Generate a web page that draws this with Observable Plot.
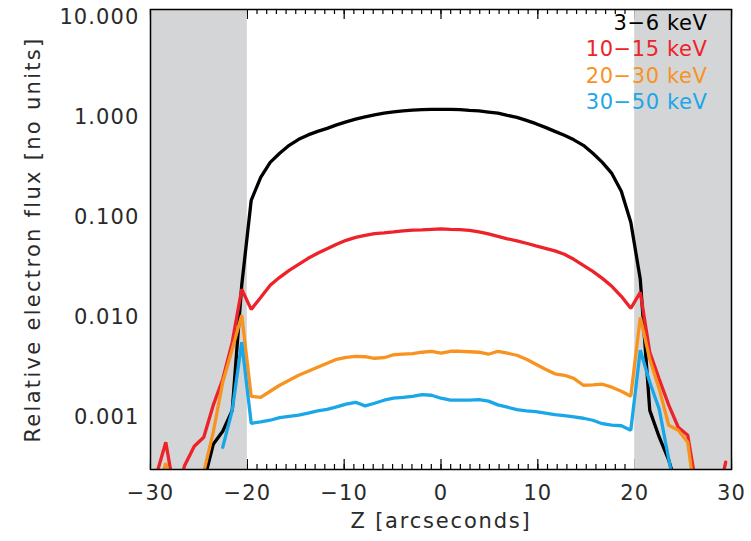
<!DOCTYPE html>
<html>
<head>
<meta charset="utf-8">
<script src="https://cdn.jsdelivr.net/npm/d3@7"></script>
<script src="https://cdn.jsdelivr.net/npm/@observablehq/plot@0.6"></script>
<style>
  html, body { margin: 0; padding: 0; background: #fff; }
  #chart { width: 751px; height: 541px; }
</style>
</head>
<body>
<div id="chart"></div>
<script>
// Z positions (arcseconds)
const z = [-29.4, -28.42, -27.44, -26.46, -25.48, -24.5, -23.52, -22.54, -21.56, -20.58,
  -19.6, -18.62, -17.64, -16.66, -15.68, -14.7, -13.72, -12.74, -11.76, -10.78,
  -9.8, -8.82, -7.84, -6.86, -5.88, -4.9, -3.92, -2.94, -1.96, -0.98,
  0,
  0.98, 1.96, 2.94, 3.92, 4.9, 5.88, 6.86, 7.84, 8.82, 9.8,
  10.78, 11.76, 12.74, 13.72, 14.7, 15.68, 16.66, 17.64, 18.62, 19.6,
  20.58, 21.56, 22.54, 23.52, 24.5, 25.48, 26.46, 27.44, 28.42, 29.4];

const flux_3_6 = [null, null, null, null, null, 0.000224, 0.000537, 0.000724, 0.00117, 0.0209,
  0.148, 0.251, 0.355, 0.437, 0.525, 0.603, 0.668, 0.724, 0.776, 0.841,
  0.902, 0.959, 1.01, 1.06, 1.10, 1.135, 1.16, 1.18, 1.194, 1.20,
  1.20,
  1.20, 1.194, 1.175, 1.159, 1.13, 1.10, 1.047, 1.0, 0.933, 0.865,
  0.794, 0.724, 0.661, 0.596, 0.525, 0.437, 0.355, 0.275, 0.182, 0.0891,
  0.024, 0.00117, 0.000631, 0.000372, 0.000178, null, null, null, null, null];

const flux_10_15 = [0.000263, 0.000562, 0.000158, 0.000331, 0.000513, 0.000631, 0.00132, 0.0024, 0.00562, 0.0191,
  0.012, 0.0158, 0.0209, 0.0251, 0.0295, 0.0339, 0.0389, 0.0437, 0.0484, 0.0537,
  0.0589, 0.0631, 0.0661, 0.0687, 0.070, 0.0716, 0.0733, 0.0745, 0.075, 0.0759,
  0.0767,
  0.0759, 0.0753, 0.0741, 0.0716, 0.0684, 0.0646, 0.061, 0.0582, 0.055, 0.0519,
  0.049, 0.0462, 0.0427, 0.038, 0.0331, 0.0288, 0.0245, 0.0204, 0.0162, 0.0123,
  0.0178, 0.00447, 0.0024, 0.00132, 0.000794, 0.000661, 0.000178, 0.0001, 0.000126, 0.000355];

const flux_20_30 = [0.000158, 0.000347, 0.000126, 0.0001, 0.000126, 0.000282, 0.000708, 0.00224, 0.00479, 0.0105,
  0.00162, 0.00158, 0.00182, 0.00209, 0.00234, 0.00263, 0.00288, 0.00316, 0.00347, 0.0038,
  0.00398, 0.00407, 0.00403, 0.00389, 0.00394, 0.00422, 0.00427, 0.00432, 0.00447, 0.00457,
  0.00437,
  0.00457, 0.00457, 0.00452, 0.00447, 0.00427, 0.00457, 0.00437, 0.00417, 0.0038, 0.00339,
  0.00302, 0.00272, 0.00263, 0.00245, 0.00209, 0.00211, 0.00214, 0.002, 0.00182, 0.00162,
  0.01, 0.0038, 0.00191, 0.000832, 0.000741, 0.000562, 0.000112, null, null, null];

const flux_30_50 = [null, null, null, null, null, null, null, 0.000501, 0.00117, 0.00562,
  0.00087, 0.000897, 0.000933, 0.000989, 0.00102, 0.00105, 0.0011, 0.00116, 0.0012, 0.00127,
  0.00135, 0.00141, 0.0013, 0.00138, 0.00148, 0.00155, 0.00158, 0.00162, 0.00168, 0.00166,
  0.00155,
  0.00148, 0.00148, 0.00148, 0.0015, 0.00145, 0.00133, 0.00126, 0.00119, 0.00116, 0.00114,
  0.0011, 0.00106, 0.00104, 0.00101, 0.000977, 0.000933, 0.000861, 0.000832, 0.000822, 0.000741,
  0.00468, 0.00224, 0.0012, 0.00038, 0.000126, null, null, null, null, null];

const seriesNames = ["3\u22126 keV", "10\u221215 keV", "20\u221230 keV", "30\u221250 keV"];
const seriesColors = ["#000000", "#ee2229", "#f7931e", "#1aa7e8"];
const seriesValues = [flux_3_6, flux_10_15, flux_20_30, flux_30_50];

const shadedRegions = [[-30, -20], [20, 30]];

const xTicks = [-30, -20, -10, 0, 10, 20, 30];
const xTickLabels = ["\u221230", "\u221220", "\u221210", "0", "10", "20", "30"];
const xMinorTicks = d3.range(-30, 31, 1);
const yTicks = [10, 1, 0.1, 0.01, 0.001];
const yTickLabels = ["10.000", "1.000", "0.100", "0.010", "0.001"];
const xLabel = "Z [arcseconds]";
const yLabel = "Relative electron flux [no units]";

const rows = [];
seriesNames.forEach((name, s) => {
  z.forEach((zz, i) => rows.push({z: zz, flux: seriesValues[s][i], series: name}));
});

const FONT = "'DejaVu Sans', sans-serif";
const TXT = "#2a2a2a";

const chart = Plot.plot({
  width: 751,
  height: 541,
  marginLeft: 150,
  marginRight: 20,
  marginTop: 9,
  marginBottom: 72,
  style: {fontFamily: FONT, fontSize: "21px", background: "#fff"},
  x: {domain: [-30, 30]},
  y: {type: "log", domain: [0.0003, 12]},
  color: {domain: seriesNames, range: seriesColors},
  marks: [
    // minor / major ticks (bottom and top, inside frame)
    Plot.ruleX(xMinorTicks, {stroke: "#000", strokeWidth: 1.2, insetTop: 455}),
    Plot.ruleX(xMinorTicks, {stroke: "#000", strokeWidth: 1.2, insetBottom: 455}),
    Plot.ruleX(xTicks, {stroke: "#000", strokeWidth: 1.2, insetTop: 450}),
    Plot.ruleX(xTicks, {stroke: "#000", strokeWidth: 1.2, insetBottom: 450}),
    // shaded regions
    Plot.rect(shadedRegions, {x1: d => d[0], x2: d => d[1], fill: "#d4d5d7"}),
    // lines
    Plot.line(rows, {x: "z", y: "flux", z: "series", stroke: "series",
      strokeWidth: 3.3, strokeLinejoin: "miter", clip: true}),
    Plot.frame({stroke: "#000", strokeWidth: 1.5}),
    // axes
    Plot.axisX({ticks: xTicks, tickFormat: d => xTickLabels[xTicks.indexOf(d)],
      tickSize: 0, tickPadding: 16, label: null, fill: TXT, fontSize: 21}),
    Plot.axisY({ticks: yTicks, tickFormat: d => yTickLabels[yTicks.indexOf(d)],
      tickSize: 0, tickPadding: 11, label: null, fill: TXT, fontSize: 21}),
    // axis titles
    Plot.text([xLabel], {frameAnchor: "bottom", dy: 52, textAnchor: "middle",
      lineAnchor: "middle", fill: TXT, fontSize: 21}),
    Plot.text([yLabel], {frameAnchor: "left", dx: -117, rotate: -90, textAnchor: "middle",
      lineAnchor: "middle", fill: TXT, fontSize: 21}),
    // legend
    ...seriesNames.map((name, i) => Plot.text([name], {
      frameAnchor: "top-right", dx: -24, dy: 13.5 + i * 26.5,
      textAnchor: "end", lineAnchor: "middle", fill: seriesColors[i], fontSize: 21
    }))
  ]
});

// widen the type a little to match the reference's broad face
d3.select(chart).selectAll("text").each(function() {
  const t = this.textContent;
  let ls = 0;
  if (t === yLabel) ls = 2.3;
  else if (t === xLabel) ls = 1.8;
  else if (seriesNames.includes(t)) ls = 0.6;
  else if (yTickLabels.includes(t) || xTickLabels.includes(t)) ls = 1.1;
  if (ls) this.setAttribute("letter-spacing", ls + "px");
});

document.getElementById("chart").appendChild(chart);
</script>
</body>
</html>
